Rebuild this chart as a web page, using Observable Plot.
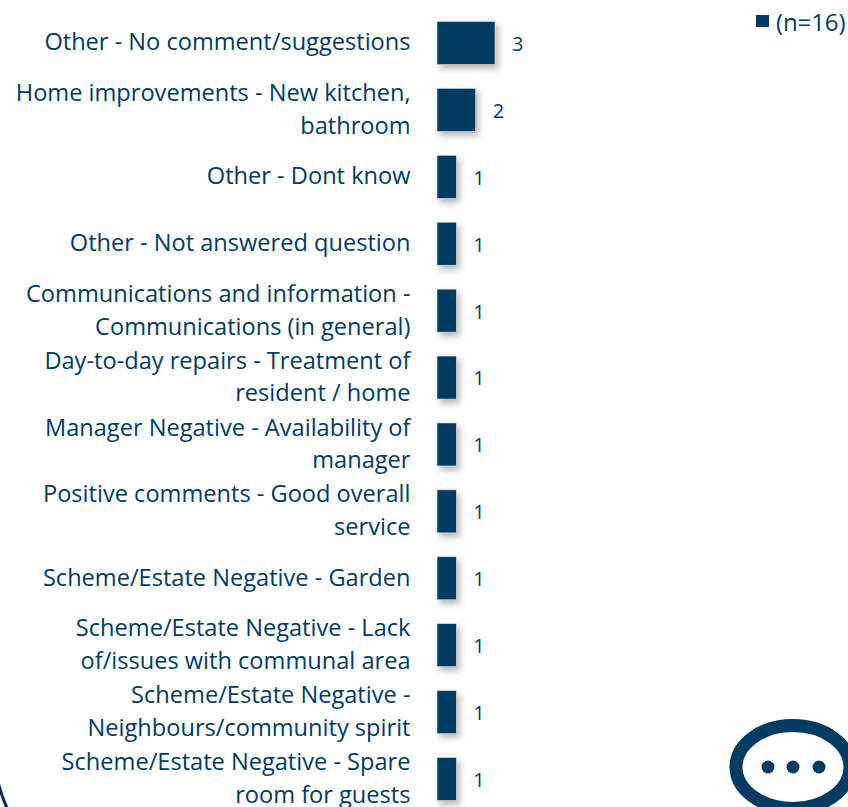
<!DOCTYPE html>
<html>
<head>
<meta charset="utf-8">
<script src="https://cdn.jsdelivr.net/npm/d3@7"></script>
<script src="https://cdn.jsdelivr.net/npm/@observablehq/plot@0.6"></script>
<style>
html,body{margin:0;padding:0;background:#fff;overflow:hidden}
#wrap{position:relative;width:848px;height:807px;overflow:hidden;font-family:"Open Sans",sans-serif;color:#003B64}
#wrap>svg.deco{position:absolute;left:0;top:0}
#legend{position:absolute;left:776px;top:6px;line-height:32px;white-space:nowrap;font-size:24px;letter-spacing:-0.1px}
#swatch{position:absolute;left:756px;top:15px;width:13px;height:12px;background:#003B64}
</style>
</head>
<body>
<div id="wrap"></div>
<script>
const categories = [
  "Other - No comment/suggestions",
  "Home improvements - New kitchen,\nbathroom",
  "Other - Dont know",
  "Other - Not answered question",
  "Communications and information -\nCommunications (in general)",
  "Day-to-day repairs - Treatment of\nresident / home",
  "Manager Negative - Availability of\nmanager",
  "Positive comments - Good overall\nservice",
  "Scheme/Estate Negative - Garden",
  "Scheme/Estate Negative - Lack\nof/issues with communal area",
  "Scheme/Estate Negative -\nNeighbours/community spirit",
  "Scheme/Estate Negative - Spare\nroom for guests"
];
const counts = [3, 2, 1, 1, 1, 1, 1, 1, 1, 1, 1, 1];
const legendLabel = "(n=16)";
const navy = "#003B64";

const rows = categories.map((c, i) => ({category: c, count: counts[i]}));

const chart = Plot.plot({
  width: 848,
  height: 807,
  margin: 0,
  style: {fontFamily: '"Open Sans", sans-serif', background: "transparent", overflow: "hidden"},
  x: {domain: [0, 3], range: [437, 495], axis: null},
  y: {domain: categories, range: [-2.4, 824.4], padding: 0.357, align: 0.5, round: false, axis: null},
  marks: [
    Plot.barX(rows, {
      x: "count", y: "category", fill: navy,
      stroke: "#dfe6ec", strokeWidth: 0.6,
      imageFilter: "drop-shadow(3px 4px 3px rgba(0,0,0,0.28))"
    }),
    Plot.text(rows, {
      x: 0, y: "category", text: "category", dx: -27, dy: -3.5,
      textAnchor: "end", lineAnchor: "middle", lineHeight: 1.39,
      fontSize: 23.6, fill: navy
    }),
    Plot.text(rows, {
      x: "count", y: "category", text: d => String(d.count), dx: 16.5, dy: 1,
      textAnchor: "start", lineAnchor: "middle",
      fontSize: 20, fill: navy
    })
  ]
});

const wrap = document.getElementById("wrap");
wrap.appendChild(chart);

const swatch = document.createElement("div");
swatch.id = "swatch";
wrap.appendChild(swatch);
const legend = document.createElement("div");
legend.id = "legend";
legend.textContent = legendLabel;
wrap.appendChild(legend);

// Decorative slide furniture, not data: speech-bubble icon and page-corner arc
const deco = document.createElementNS("http://www.w3.org/2000/svg", "svg");
deco.setAttribute("class", "deco");
deco.setAttribute("width", 848);
deco.setAttribute("height", 807);
deco.innerHTML = `
  <ellipse cx="793" cy="767" rx="57" ry="41.5" fill="none" stroke="${navy}" stroke-width="13"/>
  <circle cx="768" cy="767" r="6.5" fill="${navy}"/>
  <circle cx="793" cy="767" r="6.5" fill="${navy}"/>
  <circle cx="819" cy="767" r="6.5" fill="${navy}"/>
  <path d="M-3 778 Q1 795 7 808" fill="none" stroke="#14295a" stroke-width="3"/>`;
wrap.appendChild(deco);
</script>
</body>
</html>
